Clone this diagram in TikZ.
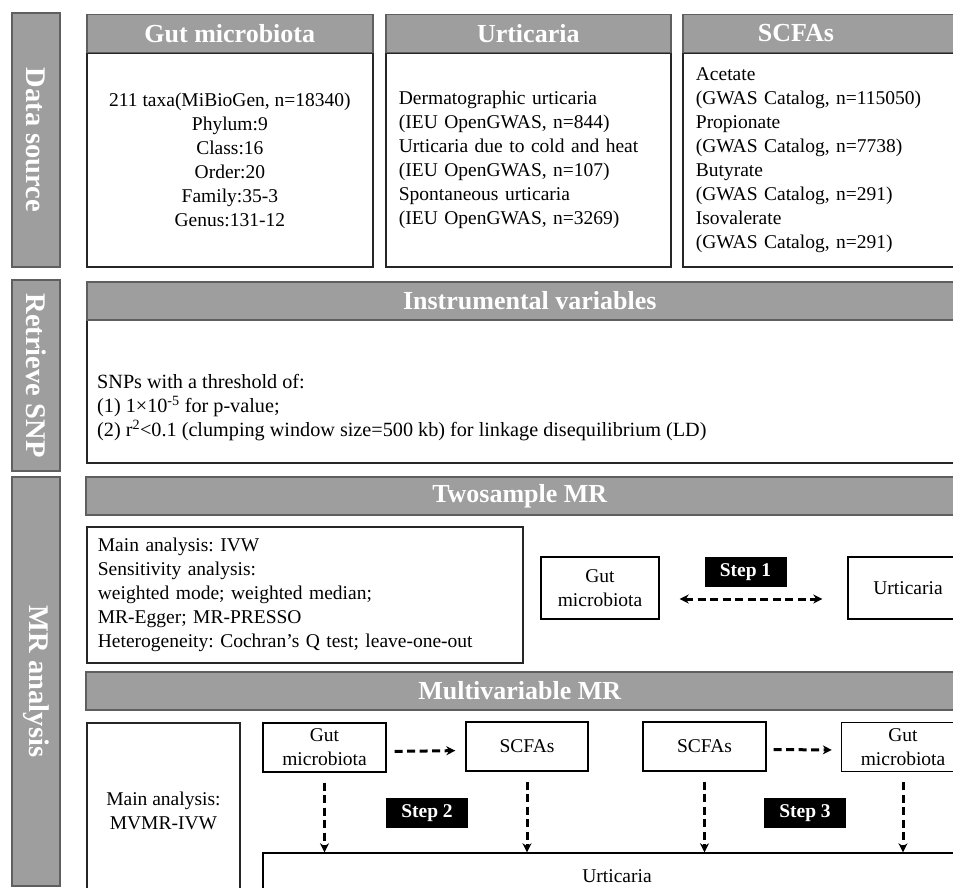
\documentclass[tikz,border=0pt]{standalone}
\usepackage{fontspec}
\setmainfont{Liberation Serif}
\usetikzlibrary{arrows.meta}
\definecolor{barfill}{RGB}{158,158,158}
\definecolor{baredge}{RGB}{95,95,95}
\newcommand{\bodyfont}{\fontsize{19.5}{24}\selectfont}
\newcommand{\headfont}{\fontsize{26}{30}\selectfont\bfseries}
\newcommand{\sidefont}{\fontsize{28.5}{30}\selectfont\bfseries}
\tikzset{arrowtip/.tip={Stealth[length=9pt,width=9pt]}}
\frenchspacing

\begin{document}
\begin{tikzpicture}[x=1pt, y=-1pt,
  sidebar/.style={draw=baredge, fill=barfill, line width=1.5pt, inner sep=0pt, text=white, font=\sidefont},
  headbar/.style={draw=baredge, fill=barfill, line width=1.5pt, inner sep=0pt, minimum height=38pt, text=white, font=\headfont},
  panel/.style={draw=black!85, line width=1.8pt, inner sep=0pt, font=\bodyfont},
  itembox/.style={draw=black, line width=1.4pt, inner sep=0pt, font=\bodyfont, align=center},
  steptag/.style={fill=black, text=white, inner sep=0pt, minimum width=82pt, minimum height=30pt, font=\fontsize{19.5}{22}\selectfont\bfseries},
  linkline/.style={line width=3pt, dash pattern=on 8pt off 4.5pt},
  linkarrow/.style={linkline, -arrowtip}]
\useasboundingbox (0,0) rectangle (953,888);
\clip (0,0) rectangle (953,888);
\fill[white] (0,0) rectangle (953,888);

% side bars
\node[sidebar, rotate=-90, minimum width=254pt, minimum height=48pt] (srcBar) at (36,140) {Data source};
\node[sidebar, rotate=-90, minimum width=191pt, minimum height=48pt] (snpBar) at (36,375.5) {Retrieve SNP};
\node[sidebar, rotate=-90, minimum width=409pt, minimum height=48pt] (mrBar) at (36,681.5) {MR analysis};

% data source
\node[panel, minimum width=286pt, minimum height=214pt, anchor=north west, align=center] (gutPanel) at (86,52)
  {211 taxa(MiBioGen, n=18340)\\Phylum:9\\Class:16\\Order:20\\Family:35-3\\Genus:131-12};
\node[panel, minimum width=285pt, minimum height=214pt, anchor=north west, text width=259pt, align=left] (urtPanel) at (385,52)
  {Dermatographic urticaria\\(IEU OpenGWAS, n=844)\\Urticaria due to cold and heat\\(IEU OpenGWAS, n=107)\\Spontaneous urticaria\\(IEU OpenGWAS, n=3269)};
\node[panel, minimum width=298pt, minimum height=214pt, anchor=north west, text width=272pt, align=left] (scfaPanel) at (682,52)
  {Acetate\\(GWAS Catalog, n=115050)\\Propionate\\(GWAS Catalog, n=7738)\\Butyrate\\(GWAS Catalog, n=291)\\Isovalerate\\(GWAS Catalog, n=291)};
\node[headbar, minimum width=286pt, anchor=north west] (gutHead) at (86,14) {Gut microbiota};
\node[headbar, minimum width=285pt, anchor=north west] (urtHead) at (385,14) {Urticaria};
\node[headbar, minimum width=298pt, anchor=north west] (scfaHead) at (682,14) {};
\node[text=white, font=\headfont] (scfaTitle) at (796,33) {SCFAs};

% retrieve SNP
\node[panel, minimum width=890pt, minimum height=143pt, anchor=north west] (ivPanel) at (86,319) {};
\node[headbar, minimum width=886pt, anchor=north west] (ivHead) at (86,281) {Instrumental variables};
\node[font=\fontsize{20.2}{24}\selectfont, align=left, anchor=west, inner sep=0pt] (ivText) at (97,408)
  {SNPs with a threshold of:\\(1) 1×10\textsuperscript{-5} for p-value;\\(2) r\textsuperscript{2}<0.1 (clumping window size=500 kb) for linkage disequilibrium (LD)};

% two-sample MR
\node[headbar, minimum width=868pt, anchor=north west] (twoHead) at (85,476) {Twosample MR};
\node[panel, minimum width=436pt, minimum height=136pt, anchor=north west, text width=414pt, align=left] (ivwBox) at (86,526)
  {Main analysis: IVW\\Sensitivity analysis:\\weighted mode; weighted median;\\MR-Egger; MR-PRESSO\\Heterogeneity: Cochran’s Q test; leave-one-out};
\node[itembox, minimum width=118pt, minimum height=62pt] (gutOne) at (600,588) {Gut\\microbiota};
\node[itembox, minimum width=120pt, minimum height=62pt] (urtOne) at (908,588) {Urticaria};
\node[steptag] (stepOne) at (745.5,572) {Step 1};
\draw[linkline, arrowtip-arrowtip, shorten <=20pt, shorten >=25pt] ([yshift=-11pt]gutOne.east) -- ([yshift=-11pt]urtOne.west);

% multivariable MR
\node[headbar, minimum width=868pt, anchor=north west] (multiHead) at (85,671) {Multivariable MR};
\node[panel, minimum width=153pt, minimum height=176pt, anchor=north west, align=center] (mvmrBox) at (86,722) {Main analysis:\\MVMR-IVW};
\node[itembox, minimum width=123pt, minimum height=49pt] (gutA) at (324.5,747.5) {Gut\\microbiota};
\node[itembox, minimum width=122pt, minimum height=49pt] (scfaA) at (527,746.5) {SCFAs};
\node[itembox, minimum width=123pt, minimum height=49pt] (scfaB) at (704.5,746.5) {SCFAs};
\node[itembox, minimum width=123pt, minimum height=49pt] (gutB) at (903,747) {Gut\\microbiota};
\node[itembox, minimum width=708pt, minimum height=46pt] (urtAll) at (617,876) {Urticaria};
\node[steptag] (stepTwo) at (427,813) {Step 2};
\node[steptag] (stepThree) at (805,813) {Step 3};

\draw[linkarrow, shorten <=8pt, shorten >=10pt] ([yshift=-4pt]gutA.east) -- ([yshift=-4pt]scfaA.west);
\draw[linkarrow, shorten <=7pt, shorten >=9pt] ([yshift=-3pt]scfaB.east) -- ([yshift=-3pt]gutB.west);
\draw[linkarrow, shorten <=10pt] (gutA.south) -- (gutA.south |- urtAll.north);
\draw[linkarrow, shorten <=10pt] (scfaA.south) -- (scfaA.south |- urtAll.north);
\draw[linkarrow, shorten <=10pt] (scfaB.south) -- (scfaB.south |- urtAll.north);
\draw[linkarrow, shorten <=10pt] (gutB.south) -- (gutB.south |- urtAll.north);
\end{tikzpicture}
\end{document}
